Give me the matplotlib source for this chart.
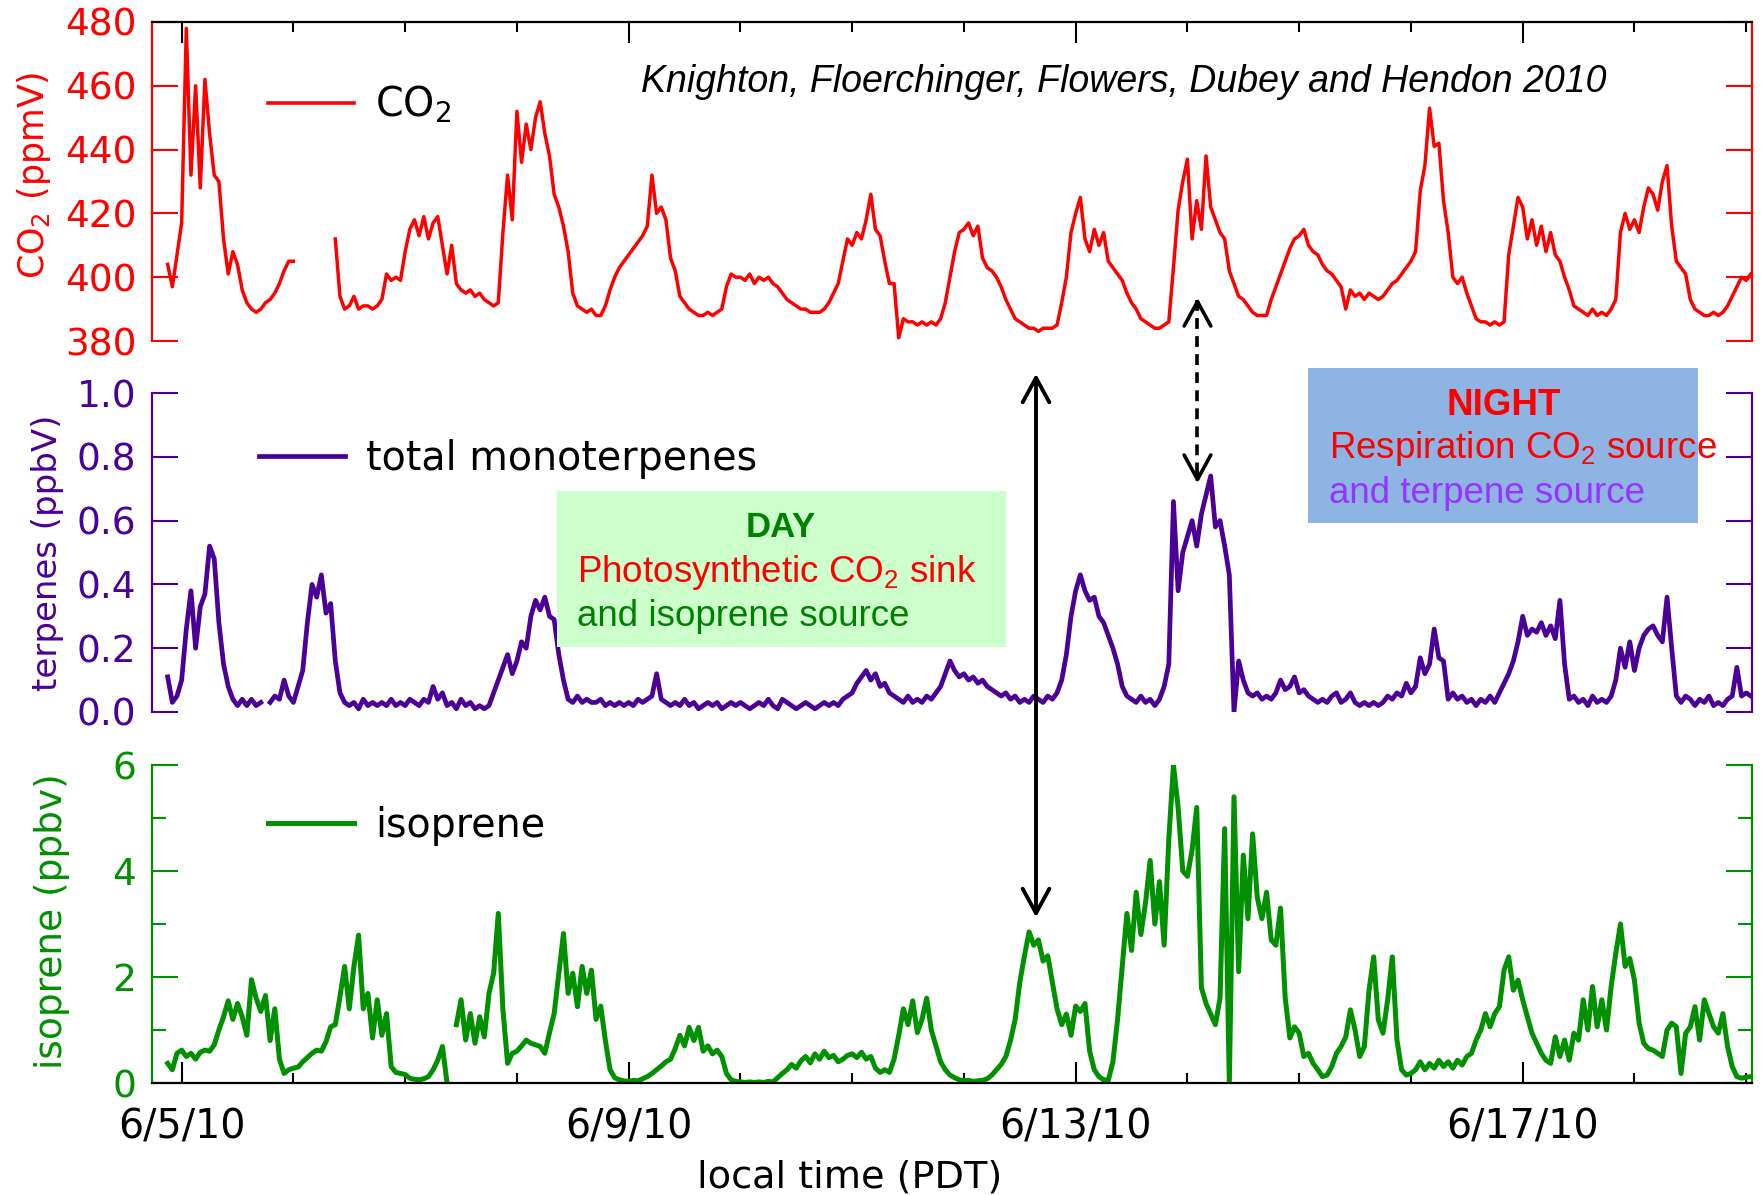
import numpy as np
import matplotlib
matplotlib.use("Agg")
import matplotlib.pyplot as plt
import matplotlib.transforms as mtransforms
from matplotlib.patches import Rectangle, FancyArrowPatch
from matplotlib.lines import Line2D
from matplotlib.ticker import FixedLocator

nan = np.nan

# ---------------- data (hourly samples, first one 6/4/10 21:00 PDT) ----------------
start_day = 4 + 21 / 24.0   # day-of-June

co2_ppm = (
    [404, 397, 407] +                                                                          # 6/4 21-23h
    [417, 478, 432, 460, 428, 462, 445, 432, 430, 412, 401, 408, 404, 396, 392, 390, 389, 390, 392, 393, 395, 398, 402, 405] +  # 6/5
    [405, nan, nan, nan, nan, nan, nan, nan, nan, 412, 394, 390, 391, 394, 390, 391, 391, 390, 391, 393, 401, 399, 400, 399] +  # 6/6
    [408, 415, 418, 413, 419, 412, 417, 419, 410, 401, 410, 398, 396, 395, 396, 394, 395, 393, 392, 391, 392, 414, 432, 418] +  # 6/7
    [452, 436, 448, 440, 450, 455, 445, 438, 426, 422, 416, 408, 395, 391, 390, 389, 390, 388, 388, 391, 396, 400, 403, 405] +  # 6/8
    [407, 409, 411, 413, 416, 432, 420, 422, 418, 406, 402, 394, 392, 390, 389, 388, 388, 389, 388, 389, 390, 397, 401, 400] +  # 6/9
    [400, 399, 401, 398, 400, 399, 400, 398, 397, 395, 393, 392, 391, 390, 390, 389, 389, 389, 390, 392, 395, 398, 405, 412] +  # 6/10
    [410, 414, 412, 418, 426, 415, 413, 405, 398, 398, 381, 387, 386, 386, 385, 386, 385, 386, 385, 387, 392, 400, 408, 414] +  # 6/11
    [415, 417, 413, 416, 406, 403, 402, 400, 397, 393, 390, 387, 386, 385, 384, 384, 383, 384, 384, 384, 385, 392, 400, 414] +  # 6/12
    [420, 425, 412, 408, 415, 410, 414, 405, 403, 401, 399, 395, 392, 390, 387, 386, 385, 384, 384, 385, 386, 403, 421, 430] +  # 6/13
    [437, 412, 424, 415, 438, 422, 418, 414, 412, 402, 398, 394, 393, 391, 389, 388, 388, 388, 393, 397, 401, 405, 409, 412] +  # 6/14
    [413, 415, 410, 408, 407, 404, 402, 401, 399, 397, 390, 396, 394, 395, 393, 395, 394, 393, 394, 396, 398, 399, 401, 403] +  # 6/15
    [405, 408, 427, 435, 453, 441, 442, 424, 414, 400, 398, 400, 395, 391, 387, 386, 386, 385, 386, 385, 386, 407, 416, 425] +  # 6/16
    [422, 412, 418, 410, 416, 408, 414, 407, 405, 400, 396, 391, 390, 389, 388, 390, 388, 389, 388, 390, 393, 414, 420, 415] +  # 6/17
    [418, 414, 422, 428, 426, 421, 430, 435, 416, 405, 403, 401, 393, 390, 389, 388, 388, 389, 388, 389, 391, 394, 397, 400] +  # 6/18
    [399, 401]                                                                                 # 6/19 0-1h
)

terpenes_ppbv = (
    [0.11, 0.03, 0.05] +
    [0.10, 0.26, 0.38, 0.20, 0.33, 0.37, 0.52, 0.48, 0.28, 0.15, 0.08, 0.04, 0.02, 0.04, 0.02, 0.04, 0.02, 0.03, nan, 0.03, 0.05, 0.04, 0.10, 0.05] +
    [0.03, 0.08, 0.13, 0.28, 0.40, 0.36, 0.43, 0.31, 0.34, 0.16, 0.06, 0.03, 0.02, 0.03, 0.01, 0.04, 0.02, 0.03, 0.02, 0.03, 0.02, 0.04, 0.02, 0.03] +
    [0.02, 0.04, 0.03, 0.02, 0.04, 0.03, 0.08, 0.04, 0.06, 0.02, 0.03, 0.01, 0.04, 0.02, 0.03, 0.01, 0.02, 0.01, 0.02, 0.06, 0.10, 0.14, 0.18, 0.12] +
    [0.16, 0.22, 0.20, 0.30, 0.35, 0.32, 0.36, 0.30, 0.29, 0.18, 0.10, 0.04, 0.03, 0.05, 0.03, 0.04, 0.03, 0.03, 0.04, 0.02, 0.03, 0.02, 0.03, 0.02] +
    [0.03, 0.02, 0.04, 0.03, 0.04, 0.05, 0.12, 0.04, 0.03, 0.02, 0.03, 0.02, 0.04, 0.02, 0.03, 0.01, 0.02, 0.03, 0.02, 0.03, 0.01, 0.02, 0.03, 0.02] +
    [0.03, 0.02, 0.01, 0.02, 0.03, 0.02, 0.04, 0.02, 0.01, 0.04, 0.03, 0.02, 0.01, 0.02, 0.03, 0.02, 0.01, 0.02, 0.03, 0.02, 0.03, 0.02, 0.04, 0.05] +
    [0.06, 0.09, 0.11, 0.13, 0.10, 0.12, 0.08, 0.09, 0.06, 0.05, 0.04, 0.03, 0.05, 0.03, 0.04, 0.03, 0.05, 0.04, 0.06, 0.08, 0.12, 0.16, 0.13, 0.11] +
    [0.12, 0.10, 0.11, 0.09, 0.10, 0.08, 0.07, 0.06, 0.05, 0.06, 0.04, 0.05, 0.03, 0.04, 0.03, 0.05, 0.04, 0.03, 0.05, 0.04, 0.06, 0.10, 0.18, 0.30] +
    [0.38, 0.43, 0.38, 0.35, 0.36, 0.30, 0.28, 0.24, 0.20, 0.15, 0.08, 0.05, 0.04, 0.03, 0.05, 0.03, 0.04, 0.02, 0.04, 0.08, 0.15, 0.66, 0.38, 0.50] +
    [0.55, 0.60, 0.52, 0.62, 0.68, 0.74, 0.58, 0.60, 0.52, 0.43, 0.00, 0.16, 0.10, 0.06, 0.05, 0.06, 0.04, 0.05, 0.04, 0.06, 0.10, 0.07, 0.08, 0.11] +
    [0.06, 0.07, 0.05, 0.04, 0.03, 0.04, 0.03, 0.05, 0.06, 0.03, 0.04, 0.06, 0.03, 0.02, 0.03, 0.02, 0.03, 0.02, 0.03, 0.05, 0.04, 0.06, 0.05, 0.09] +
    [0.06, 0.08, 0.17, 0.12, 0.15, 0.26, 0.17, 0.16, 0.04, 0.06, 0.04, 0.05, 0.03, 0.04, 0.02, 0.04, 0.03, 0.05, 0.03, 0.06, 0.09, 0.12, 0.16, 0.22] +
    [0.30, 0.24, 0.26, 0.25, 0.28, 0.24, 0.27, 0.23, 0.35, 0.15, 0.04, 0.05, 0.03, 0.04, 0.02, 0.05, 0.03, 0.04, 0.03, 0.05, 0.10, 0.20, 0.14, 0.22] +
    [0.13, 0.20, 0.24, 0.26, 0.27, 0.24, 0.22, 0.36, 0.20, 0.05, 0.03, 0.05, 0.04, 0.02, 0.04, 0.03, 0.05, 0.02, 0.03, 0.02, 0.04, 0.05, 0.14, 0.05] +
    [0.06, 0.05]
)

isoprene_ppbv = (
    [0.37, 0.25, 0.56] +
    [0.62, 0.50, 0.56, 0.45, 0.58, 0.62, 0.60, 0.72, 1.00, 1.25, 1.55, 1.20, 1.50, 1.25, 0.90, 1.95, 1.60, 1.35, 1.65, 0.80, 1.40, 0.45, 0.18, 0.25] +
    [0.28, 0.30, 0.40, 0.48, 0.56, 0.62, 0.60, 0.78, 1.06, 1.10, 1.63, 2.20, 1.40, 2.20, 2.79, 1.40, 1.69, 0.85, 1.57, 0.90, 1.31, 0.31, 0.20, 0.18] +
    [0.16, 0.09, 0.07, 0.06, 0.08, 0.12, 0.25, 0.43, 0.69, 0.00, nan, 1.10, 1.57, 0.81, 1.31, 0.75, 1.25, 0.87, 1.69, 2.07, 3.20, 1.38, 0.37, 0.56] +
    [0.60, 0.70, 0.81, 0.75, 0.72, 0.69, 0.56, 0.95, 1.31, 2.07, 2.82, 1.69, 2.07, 1.44, 2.20, 1.69, 2.13, 1.20, 1.45, 0.80, 0.25, 0.10, 0.06, 0.04] +
    [0.03, 0.05, 0.04, 0.08, 0.12, 0.18, 0.25, 0.32, 0.40, 0.45, 0.65, 0.90, 0.70, 1.05, 0.80, 1.05, 0.60, 0.70, 0.55, 0.62, 0.50, 0.18, 0.06, 0.03] +
    [0.02, 0.01, 0.02, 0.01, 0.02, 0.01, 0.03, 0.02, 0.10, 0.18, 0.25, 0.35, 0.28, 0.42, 0.50, 0.38, 0.55, 0.45, 0.60, 0.48, 0.52, 0.40, 0.45, 0.52] +
    [0.55, 0.48, 0.58, 0.45, 0.50, 0.28, 0.20, 0.25, 0.20, 0.45, 0.90, 1.40, 1.10, 1.55, 0.95, 1.20, 1.60, 1.00, 0.70, 0.40, 0.25, 0.15, 0.10, 0.06] +
    [0.04, 0.05, 0.03, 0.04, 0.05, 0.08, 0.15, 0.25, 0.35, 0.50, 0.80, 1.20, 1.90, 2.40, 2.85, 2.60, 2.70, 2.30, 2.40, 1.90, 1.40, 1.10, 1.30, 0.90] +
    [1.45, 1.35, 1.50, 0.60, 0.25, 0.12, 0.06, 0.05, 0.40, 1.20, 2.20, 3.20, 2.50, 3.60, 2.80, 3.40, 4.20, 3.00, 3.80, 2.60, 4.60, 6.00, 5.20, 4.00] +
    [3.90, 4.40, 5.20, 1.80, 1.50, 1.30, 1.10, 1.60, 4.80, 0.00, 5.40, 2.10, 4.30, 3.10, 4.70, 3.50, 3.10, 3.60, 2.70, 2.60, 3.30, 1.60, 0.85, 1.06] +
    [0.94, 0.50, 0.56, 0.37, 0.25, 0.12, 0.15, 0.31, 0.56, 0.69, 0.87, 1.38, 1.00, 0.50, 0.69, 1.75, 2.38, 1.19, 0.94, 1.57, 2.38, 0.81, 0.25, 0.15] +
    [0.18, 0.25, 0.40, 0.25, 0.37, 0.28, 0.43, 0.31, 0.40, 0.28, 0.43, 0.34, 0.50, 0.56, 0.81, 1.00, 1.31, 1.06, 1.31, 1.44, 2.13, 2.38, 1.75, 1.94] +
    [1.57, 1.25, 0.94, 0.75, 0.56, 0.43, 0.37, 0.87, 0.50, 0.81, 0.43, 0.94, 0.81, 1.57, 1.00, 1.82, 1.06, 1.57, 1.00, 1.82, 2.45, 3.00, 2.20, 2.35] +
    [1.94, 1.13, 0.75, 0.65, 0.62, 0.56, 0.50, 1.00, 1.13, 1.06, 0.18, 0.94, 1.06, 1.44, 0.81, 1.57, 1.31, 1.06, 0.94, 1.31, 0.69, 0.31, 0.12, 0.09] +
    [0.11, 0.12]
)

date_ticks = [5, 9, 13, 17]
date_labels = ["6/5/10", "6/9/10", "6/13/10", "6/17/10"]
day_ticks = list(range(5, 20))
co2_ticks = [380, 400, 420, 440, 460, 480]
terp_ticks = [0.0, 0.2, 0.4, 0.6, 0.8, 1.0]
iso_ticks = [0, 2, 4, 6]
iso_minor = [1, 3, 5]

# ---------------- style ----------------
RED = "#FF0000"
PURPLE = "#4B0096"
GREEN = "#009000"

W, H = 1764, 1195
fig = plt.figure(figsize=(W / 100, H / 100), dpi=100)

def fx(px):
    return px / W

def fy(py):
    return 1 - py / H

xmin, xmax = 4.732, 19.052
left, right = 151.7, 1752
ax1 = fig.add_axes([fx(left), fy(341), fx(right - left), (341 - 22) / H])
ax2 = fig.add_axes([fx(left), fy(712), fx(right - left), (712 - 393) / H])
ax3 = fig.add_axes([fx(left), fy(1083), fx(right - left), (1083 - 765) / H])

t = start_day + np.arange(len(co2_ppm)) / 24.0
assert len(co2_ppm) == len(terpenes_ppbv) == len(isoprene_ppbv)

ax1.plot(t, co2_ppm, color=RED, lw=2.5)
ax2.plot(t, terpenes_ppbv, color=PURPLE, lw=3.4)
ax3.plot(t, isoprene_ppbv, color=GREEN, lw=3.6)


def style(ax, color, ylim, ticks, fmt, minor=None):
    ax.set_xlim(xmin, xmax)
    ax.set_ylim(*ylim)
    for s in ("left", "right"):
        ax.spines[s].set_color(color)
        ax.spines[s].set_linewidth(1.6)
    for s in ("top", "bottom"):
        ax.spines[s].set_visible(False)
    ax.yaxis.set_major_locator(FixedLocator(ticks))
    ax.set_yticklabels([fmt.format(v) for v in ticks])
    ax.tick_params(axis="y", which="major", direction="in", length=18.7, width=1.5,
                   color=color, labelcolor=color, labelsize=27, left=True, right=True, pad=11)
    if minor:
        ax.yaxis.set_minor_locator(FixedLocator(minor))
        ax.tick_params(axis="y", which="minor", direction="in", length=10, width=1.5,
                       color=color, left=True, right=True)
    ax.xaxis.set_major_locator(FixedLocator(date_ticks))
    ax.xaxis.set_minor_locator(FixedLocator(day_ticks))
    ax.tick_params(axis="x", which="both", bottom=False, top=False,
                   labelbottom=False, labeltop=False)


style(ax1, RED, (380, 480), co2_ticks, "{:d}")
style(ax2, PURPLE, (0, 1.0), terp_ticks, "{:.1f}")
style(ax3, GREEN, (0, 6), iso_ticks, "{:d}", iso_minor)

# top x axis on CO2 panel
ax1.spines["top"].set_visible(True)
ax1.spines["top"].set_color("black")
ax1.spines["top"].set_linewidth(1.6)
ax1.tick_params(axis="x", which="major", top=True, direction="in", length=15, width=1.5, color="black")
ax1.tick_params(axis="x", which="minor", top=True, direction="in", length=7.5, width=1.5, color="black")

# bottom x axis on isoprene panel
ax3.spines["bottom"].set_visible(True)
ax3.spines["bottom"].set_color("black")
ax3.spines["bottom"].set_linewidth(1.6)
ax3.set_xticklabels(date_labels)
ax3.tick_params(axis="x", which="major", bottom=True, labelbottom=True, direction="in",
                length=15, width=1.5, color="black", labelsize=28.5, pad=17.5)
ax3.tick_params(axis="x", which="minor", bottom=True, direction="in", length=7.5, width=1.5, color="black")
ax3.set_xlabel("local time (PDT)", fontsize=27.5)
ax3.xaxis.set_label_coords(0.436, -0.298)
ax3.xaxis.label.set_va("center")

# y labels
ax1.set_ylabel("CO$_2$ (ppmV)", color=RED, fontsize=25)
ax1.yaxis.set_label_coords(-0.0735, 0.52)
ax2.set_ylabel("terpenes (ppbV)", color=PURPLE, fontsize=24.5)
ax2.yaxis.set_label_coords(-0.0654, 0.50)
ax3.set_ylabel("isoprene (ppbv)", color=GREEN, fontsize=27)
ax3.yaxis.set_label_coords(-0.0623, 0.51)
for ax in (ax1, ax2, ax3):
    ax.yaxis.label.set_va("center")

# in-panel legends
def add_legend(ax, color, lw, label, x, y):
    ax.legend([Line2D([], [], color=color, lw=lw)], [label], loc="center left",
              bbox_to_anchor=(x, y), frameon=False, fontsize=28.5, handlelength=2.17,
              handletextpad=0.53, borderpad=0, borderaxespad=0)

add_legend(ax1, RED, 2.6, "CO$_2$", 0.0727, 0.74)
add_legend(ax2, PURPLE, 3.4, "total monoterpenes", 0.067, 0.793)
add_legend(ax3, GREEN, 3.6, "isoprene", 0.0727, 0.808)

# citation
fig.text(fx(641), fy(92), "Knighton, Floerchinger, Flowers, Dubey and Hendon 2010",
         family="Liberation Sans", style="italic", fontsize=27, va="baseline", ha="left")

# annotation boxes
fig.add_artist(Rectangle((fx(557), fy(647)), fx(1006 - 557), (647 - 491) / H,
                         transform=fig.transFigure, facecolor="#CCFFCC", edgecolor="none", zorder=5))
fig.add_artist(Rectangle((fx(1308), fy(523)), fx(1698 - 1308), (523 - 368) / H,
                         transform=fig.transFigure, facecolor="#8EB4E3", edgecolor="none", zorder=5))

kw = dict(family="Liberation Sans", va="baseline", zorder=6)
fig.text(fx(781), fy(537), "DAY", color="#008000", fontsize=25, weight="bold", ha="center", **kw)
fig.text(fx(577), fy(582), r"Photosynthetic CO$_\mathregular{2}$ sink", color=RED, fontsize=26.5, ha="left", **kw)
fig.text(fx(577), fy(626), "and isoprene source", color="#008000", fontsize=26.5, ha="left", **kw)
fig.text(fx(1504), fy(415), "NIGHT", color=RED, fontsize=26.5, weight="bold", ha="center", **kw)
fig.text(fx(1329), fy(458), r"Respiration CO$_\mathregular{2}$ source", color=RED, fontsize=26.5, ha="left", **kw)
fig.text(fx(1329), fy(503), "and terpene source", color="#9933FF", fontsize=26.5, ha="left", **kw)

# arrows (x in data days, y in figure fraction)
trans = mtransforms.blended_transform_factory(ax3.transData, fig.transFigure)
day_arrow_x = 12.645
night_arrow_x = 14.09
fig.add_artist(FancyArrowPatch((day_arrow_x, fy(371)), (day_arrow_x, fy(920)), transform=trans,
                               arrowstyle="<->,head_length=0.55,head_width=0.3", mutation_scale=32,
                               color="black", lw=2.8, zorder=7))
fig.add_artist(Line2D([night_arrow_x, night_arrow_x], [fy(300), fy(481)], transform=trans,
                      color="black", lw=2.6, dashes=(3, 2), zorder=7))
for tip, tail in ((fy(295), fy(312)), (fy(486), fy(469))):
    fig.add_artist(FancyArrowPatch((night_arrow_x, tail), (night_arrow_x, tip), transform=trans,
                                   arrowstyle="->,head_length=0.55,head_width=0.3", mutation_scale=32,
                                   color="black", lw=2.6, zorder=7))

fig.savefig("out.png", dpi=100)
